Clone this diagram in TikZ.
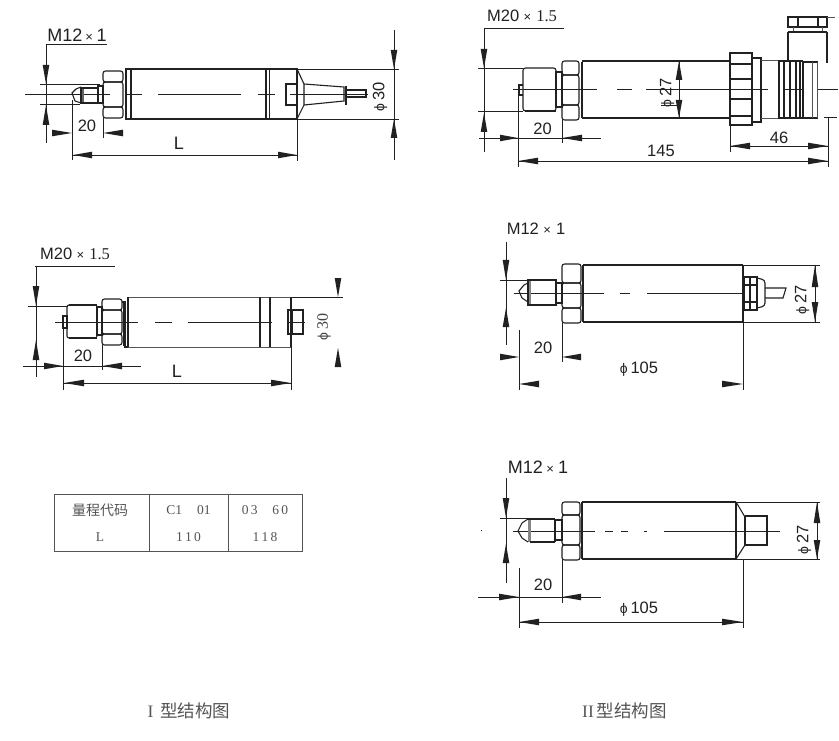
\documentclass[tikz,border=0pt]{standalone}
\usepackage{fontspec}
\setmainfont{Liberation Sans}
\newfontfamily\cjkf{Noto Sans CJK SC}
\newfontfamily\serf{Liberation Serif}
\usetikzlibrary{calc}
\definecolor{ink}{gray}{0.13}
\definecolor{grayink}{gray}{0.33}
\newcommand{\arrowh}[2]{\fill[ink] (#1) -- ($(#2)!3.3pt!90:(#1)$) -- ($(#2)!3.3pt!-90:(#1)$) -- cycle;}
\newcommand{\phisym}{{\fontsize{14}{14}\selectfont ϕ}}
\newcommand{\crossmark}{\hspace{4.5pt}{\fontsize{13}{13}\selectfont ×}\hspace{5pt}}
% nut: x1 x2 y1 y2 y3 y4
\newcommand{\nutshape}[6]{%
  \draw[nut] (#1,#3) rectangle (#2,#4);
  \draw[nut] (#1,#4) rectangle (#2,#5);
  \draw[nut] (#1,#5) rectangle (#2,#6);
}
\tikzset{
  dim/.style={ink,line width=0.55pt},
  part/.style={ink,line width=1.1pt},
  heavy/.style={ink,line width=1.8pt},
  soft/.style={grayink,line width=0.8pt},
  cl/.style={ink,line width=0.7pt},
  lab/.style={ink,inner sep=0pt,font=\fontsize{16.5}{16.5}\selectfont},
  biglab/.style={ink,inner sep=0pt,font=\fontsize{18}{18}\selectfont},
  tag/.style={ink!85,inner sep=0pt,font=\fontsize{16}{16}\selectfont},
  nut/.style={ink,line width=1.1pt,rounded corners=2.5pt},
  tbl/.style={grayink,inner sep=0pt,font=\serf\fontsize{13.5}{13.5}\selectfont},
  captext/.style={grayink,inner sep=0pt,font=\fontsize{17.5}{17.5}\selectfont}
}
\begin{document}
\begin{tikzpicture}[x=1pt,y=-1pt]
\useasboundingbox (0,0) rectangle (839,741);
\fill[white] (0,0) rectangle (839,741);

% ===== Figure A =====
\draw[cl] (25,94)--(110,94) (125,94)--(142,94) (158,94)--(241,94) (258,94)--(275,94) (290,94)--(368,94);
\draw[part] (131,69) rectangle (297,119);
\draw[heavy] (131,69)--(131,119) (266,69)--(266,119) (269.5,69)--(269.5,119) (297,69)--(297,119);
\draw[part] (131,69)--(126,69)--(126,119)--(131,119);
\nutshape{103}{123}{71}{82}{107}{118}
\draw[part] (98,86) rectangle (103,103);
\fill[ink!70] (81,87) rectangle (84,104);
\draw[part] (81,88) rectangle (98,103);
\draw[part] (81,87)--(76,89)--(72,93)--(75,101)--(81,103);
\draw[part] (297,69)--(304,84)--(304,105)--(297,119);
\draw[part] (304,84)--(344,87)--(344,101)--(304,105);
\draw[heavy] (346,86)--(346,105);
\draw[part] (347,90)--(366,90)--(366,97)--(347,97);
\draw[part] (286,84) rectangle (297,105);
% dims
\draw[dim] (46,44)--(107,44) (46,44)--(46,143);
\draw[dim] (40,84)--(100,84) (40,104)--(80,104);
\arrowh{46,84}{46,65}\arrowh{46,105}{46,125}
\draw[dim] (72,100)--(72,160) (103,118)--(103,138);
\arrowh{72,133}{52,133}\arrowh{103,133}{123,133}
\draw[dim] (73,155)--(297,155) (297,119)--(297,161);
\arrowh{73,155}{92,155}\arrowh{297,155}{278,155}
\draw[dim] (297,69)--(399,69) (297,119)--(399,119) (394,30)--(394,160);
\arrowh{394,69}{394,50}\arrowh{394,119}{394,138}
\node[biglab] (a1) at (77,35) {M12\hspace{3pt}{\fontsize{13}{13}\selectfont ×}\hspace{3.5pt}1};
\node[lab] (a2) at (87,126) {20};
\node[biglab] (a3) at (179,143) {L};
\node[lab,rotate=90] (a4) at (380,97) {\phisym\,30};

% ===== Figure B =====
\draw[cl] (513,89)--(597,89) (617,89)--(632,89) (646,89)--(768,89) (785,89)--(802,89) (818,89)--(838,89);
\draw[part,rounded corners=2.5pt] (523,111)--(523,68)--(556,68)--(556,111)--cycle;
\draw[heavy] (525,111)--(556,111);
\draw[part] (523,85)--(519,85)--(519,95)--(523,95);
\draw[part] (556,72) rectangle (562,107);
\nutshape{562}{579}{61}{75}{105}{120}
\draw[part] (582,61)--(730,61) (582,118)--(730,118);
\draw[heavy] (582,62)--(582,118);
\draw[part] (730,53) rectangle (752,125);
\draw[heavy] (730,79)--(752,79);
\draw[part] (730,64)--(752,64) (730,99)--(752,99) (730,116)--(752,116);
\draw[part] (752,58) rectangle (761,122);
\draw[soft] (761,60)--(778,60) (761,118)--(778,118);
\draw[part] (779,61)--(779,118) (784,61)--(784,118) (790,61)--(790,118) (796,61)--(796,118) (800,61)--(800,118) (803,61)--(803,118);
\draw[part] (778,61)--(803,61) (778,118)--(803,118);
\draw[part] (803,62)--(818,62) (803,118)--(818,118);
\draw[soft] (812,62)--(812,118) (817.5,62)--(817.5,118);
\draw[part] (788,17) rectangle (827,27) (798,17)--(798,27) (818,17)--(818,27);
\draw[soft] (827,17)--(835,17) (793,27)--(793,32) (822,27)--(822,32);
\draw[part] (788,32)--(827,32) (827,32)--(827,63);
\draw[heavy] (788,32)--(788,61);
% dims
\draw[dim] (484,28)--(564,28) (484,28)--(484,152);
\draw[dim] (478,68)--(523,68) (478,111)--(523,111);
\arrowh{484,68}{484,49}\arrowh{484,113}{484,132}
\draw[dim] (479,138)--(601,138) (518,95)--(518,167) (562,120)--(562,143);
\arrowh{518,138}{500,138}\arrowh{562,138}{582,138}
\draw[dim] (518,161)--(828,161) (824,117)--(837,117) (828,117)--(828,167);
\arrowh{518,161}{538,161}\arrowh{828,161}{808,161}
\draw[dim] (730,146)--(828,146) (730,126)--(730,152);
\arrowh{730,146}{750,146}\arrowh{828,146}{808,146}
\draw[dim] (679,61)--(679,118) (661,105)--(679,105);
\arrowh{679,61}{679,80}\arrowh{679,118}{679,100}
\node[lab] (b1) at (522,16) {M20\crossmark{\serf 1.5}};
\node[lab] (b2) at (542.5,129) {20};
\node[lab] (b3) at (661,151) {145};
\node[lab] (b4) at (779,138) {46};
\node[lab,rotate=90] (b5) at (667,93) {\phisym\,27};

% ===== Figure C =====
\draw[cl] (55,322)--(138,322) (155,322)--(172,322) (188,322)--(272,322) (287,322)--(305,322);
\draw[part,rounded corners=2pt] (67,305) rectangle (97,338);
\draw[heavy] (69,305)--(97,305) (69,338)--(97,338);
\draw[part] (63,316) rectangle (67,328);
\draw[part] (97,307) rectangle (102,335);
\nutshape{102}{122}{299}{310}{334}{345}
\draw[part] (122,302)--(125,302)--(125,347)--(128,347);
\draw[heavy] (124,303)--(124,346);
\draw[soft] (128,297)--(291,297) (128,347)--(291,347);
\draw[heavy] (128,297)--(128,347) (260,297)--(260,347) (270,297)--(270,347) (291,297)--(291,347);
\draw[part] (288,310) rectangle (303,334);
\draw[part] (292,310)--(292,334);
% dims
\draw[dim] (35,266)--(115,266) (36,266)--(36,377) (28,306)--(68,306);
\arrowh{36,306}{36,286}\arrowh{36,340}{36,360}
\draw[dim] (23,366)--(141,366) (63,322)--(63,390) (102,345)--(102,370);
\arrowh{63,366}{44,366}\arrowh{102,366}{122,366}
\draw[dim] (64,383)--(291,383) (291,347)--(291,390);
\arrowh{64,383}{84,383}\arrowh{291,383}{271,383}
\draw[dim] (291,297)--(343,297);
\arrowh{338,297}{338,278}\arrowh{338,348}{338,367}
\node[lab] (c1) at (75,254) {M20\crossmark{\serf 1.5}};
\node[lab] (c2) at (83,356) {20};
\node[biglab] (c3) at (177,371) {L};
\node[tag,rotate=90] (c4) at (324,327) {\phisym\,{\serf 30}};

% ===== Figure D =====
\draw[cl] (514,293)--(604,293) (620,293)--(630,293) (647,293)--(745,293);
\fill[ink!55] (528,281) rectangle (531,304);
\draw[part] (528,283)--(524,285)--(519,291)--(522,298)--(528,302);
\draw[part] (528,280) rectangle (556,305);
\draw[part] (556,283) rectangle (562,303);
\nutshape{562}{581}{264}{283}{308}{323}
\draw[heavy] (583,265)--(583,322);
\draw[part] (583,265)--(743,265) (583,322)--(743,322) (743,265)--(743,322);
\draw[part] (744,277) rectangle (757,310);
\draw[part] (750,277)--(750,310) (744,285)--(757,285) (744,302)--(757,302);
\draw[part,rounded corners=3pt] (757,278)--(765,280)--(765,306)--(757,308);
\draw[part] (765,288)--(786,288)--(783,298)--(765,298);
% dims
\draw[dim] (506,242)--(506,345) (500,280)--(532,280);
\arrowh{506,280}{506,260}\arrowh{506,308}{506,327}
\draw[dim] (519,330)--(519,390) (562,323)--(562,362);
\arrowh{519,357}{500,357}\arrowh{562,357}{581,357}
\draw[dim] (743,322)--(743,390);
\arrowh{519,384}{539,384}\arrowh{743,384}{722,384}
\draw[dim] (743,265)--(820,265) (743,322)--(820,322) (815,265)--(815,322);
\arrowh{815,265}{815,287}\arrowh{815,322}{815,302}
\node[lab] (d1) at (536,229) {M12\crossmark 1};
\node[lab] (d2) at (543,348) {20};
\node[lab] (d3) at (639,369) {\phisym\,105};
\node[lab,rotate=90] (d4) at (802,300) {\phisym\,27};

% ===== Figure E =====
\draw[cl] (513,531)--(595,531) (605,531)--(613,531) (621,531)--(628,531) (644,531)--(647,531) (664,531)--(780,531) (481,530)--(482,530);
\fill[ink!55] (528,519) rectangle (531,542);
\draw[part] (528,519)--(522,523)--(518,531)--(522,538)--(528,542);
\draw[part] (528,519)--(555,519) (555,519)--(555,542);
\draw[heavy] (530,542)--(555,542);
\draw[part] (555,520) rectangle (562,540);
\nutshape{562}{580}{502}{515}{545}{560}
\draw[heavy] (582,502)--(582,559);
\draw[heavy] (582,502)--(736,502) (582,559)--(736,559);
\draw[part] (736,502)--(736,559);
\draw[part] (736,502)--(745,517) (736,559)--(745,545);
\draw[heavy] (745,517)--(745,545);
\draw[part] (745,516)--(767,516)--(767,545)--(745,545);
% dims
\draw[dim] (506,478)--(506,583) (500,518)--(530,518);
\arrowh{506,518}{506,498}\arrowh{506,544}{506,563}
\draw[dim] (478,597)--(601,597) (519,568)--(519,628) (562,560)--(562,603);
\arrowh{519,597}{499,597}\arrowh{562,597}{581,597}
\draw[dim] (519,622)--(743,622) (743,559)--(743,628);
\arrowh{519,622}{539,622}\arrowh{743,622}{722,622}
\draw[dim] (736,502)--(820,502) (736,559)--(820,559) (817,502)--(817,559);
\arrowh{817,502}{817,523}\arrowh{817,559}{817,540}
\node[biglab] (e1) at (538,467) {M12\hspace{3.5pt}{\fontsize{13}{13}\selectfont ×}\hspace{4pt}1};
\node[lab] (e2) at (543,585) {20};
\node[lab] (e3) at (639,609) {\phisym\,105};
\node[lab,rotate=90] (e4) at (804,540) {\phisym\,27};

% ===== Table =====
\draw[grayink,line width=1pt] (54,494) rectangle (302,551) (149,494)--(149,551) (228,494)--(228,551);
\node[tbl,font=\cjkf\fontsize{14}{14}\selectfont] (t1) at (100,510) {量程代码};
\node[tbl] (t2) at (100,537) {L};
\node[tbl] (t3) at (188.5,510) {C1\hspace{1.1em}01};
\node[tbl] (t4) at (188.5,537) {1\,1\,0};
\node[tbl] (t5) at (265,510) {0\,3\hspace{1.1em}6\,0};
\node[tbl] (t6) at (265,537) {1\,1\,8};

% ===== Captions =====
\node[captext] (k1) at (189,711) {\serf I\hspace{7pt}\cjkf 型结构图};
\node[captext] (k2) at (624.5,711) {\serf II\hspace{3pt}\cjkf 型结构图};
\end{tikzpicture}
\end{document}
